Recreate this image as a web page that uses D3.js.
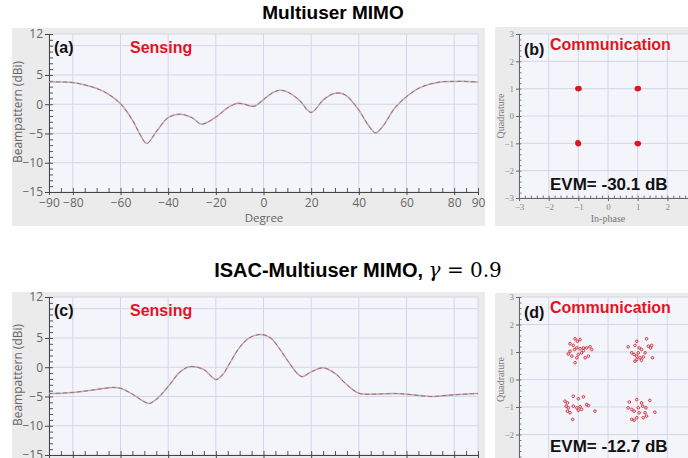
<!DOCTYPE html>
<html>
<head>
<meta charset="utf-8">
<script src="https://cdn.jsdelivr.net/npm/d3@7/dist/d3.min.js"></script>
<style>
  body { margin: 0; background: #fff; }
  svg { display: block; }
</style>
</head>
<body>
<svg id="chart" width="688" height="458"></svg>
<script>
// ---- Beampattern (dBi) versus angle, multiuser MIMO ----
const beamDegA = [-90, -85, -80, -75, -70, -65, -60, -55, -52, -49, -45, -40, -35, -30, -26, -20, -15, -11, -8, -4, 0, 4, 7, 10, 15, 20, 25, 29, 32, 35, 40, 44, 47, 50, 55, 60, 65, 70, 75, 80, 85, 90];
const beamValA = [3.85, 3.8, 3.7, 3.3, 2.7, 1.7, 0.1, -2.7, -5.0, -6.7, -4.7, -2.3, -1.7, -2.3, -3.4, -2.2, -0.6, 0.15, 0.0, -0.35, 0.8, 2.0, 2.4, 2.1, 0.7, -1.4, 0.7, 1.75, 1.9, 1.4, -1.0, -3.6, -4.9, -3.8, -0.7, 1.3, 2.7, 3.45, 3.85, 3.9, 3.9, 3.8];

// ---- Beampattern (dBi) versus angle, ISAC multiuser MIMO ----
const beamDegC = [-90, -80, -70, -63, -60, -55, -50, -48, -45, -40, -35, -31, -25, -20, -17, -14, -10, -6, -1, 3, 7, 10, 16, 20, 25, 30, 35, 40, 45, 55, 60, 70, 80, 90];
const beamValC = [-4.5, -4.3, -3.8, -3.45, -3.6, -4.6, -5.9, -6.2, -5.5, -3.3, -0.8, 0.1, -0.4, -2.1, -1.2, 0.8, 3.4, 5.0, 5.6, 5.0, 3.0, 1.2, -1.6, -0.8, -0.1, -1.05, -3.0, -4.45, -4.6, -4.5, -4.6, -5.0, -4.7, -4.5];

// ---- Axis ticks ----
const degreeTicks = [-90, -80, -60, -40, -20, 0, 20, 40, 60, 80, 90];
const degreeGrid = [-80, -60, -40, -20, 0, 20, 40, 60, 80];
const dbTicks = [12, 5, 0, -5, -10, -15];
const dbGrid = [10, 5, 0, -5, -10];
const iqTicks = [-3, -2, -1, 0, 1, 2, 3];
const iqGrid = [-2, -1, 0, 1, 2];

// ---- Received QPSK symbols, multiuser MIMO (EVM -30.1 dB) ----
const symI_B = [-1.03, -0.98, -1.0, -0.96, -1.02, -0.99, 0.97, 1.02, 1.0, 1.04, 0.99, 1.01, -1.02, -0.99, -1.01, -1.03, -0.98, -1.0, 0.97, 1.02, 1.0, 1.04, 0.98, 1.01];
const symQ_B = [1.0, 1.02, 0.98, 1.0, 1.01, 0.99, 1.0, 1.02, 0.98, 1.0, 1.01, 0.99, -0.96, -1.0, -1.03, -1.0, -1.02, -0.98, -1.01, -1.0, -1.02, -1.01, -0.99, -1.03];

// ---- Received QPSK symbols, ISAC multiuser MIMO (EVM -12.7 dB) ----
const symI_D = [
  -1.11, -1.03, -0.94, -1.28, -1.17, -1.34, -1.22, -1.11, -0.94, -0.83, -0.72, -0.61, -0.89, -1.0, -1.05, -0.77, -0.66, -1.28, -1.13, -0.83, -1.05, -0.55,
  0.68, 0.97, 1.30, 0.91, 1.05, 1.13, 0.80, 0.88, 0.97, 1.08, 1.19, 1.36, 1.47, 1.44, 0.91, 0.97, 1.13, 1.50, 1.02, 1.25,
  -1.45, -1.37, -1.17, -1.0, -0.83, -1.34, -1.28, -1.37, -1.17, -1.05, -0.94, -0.89, -0.72, -0.66, -0.44, -1.19, -1.0, -1.41,
  0.72, 0.97, 1.13, 1.41, 0.80, 0.88, 1.02, 1.17, 1.28, 0.80, 0.88, 0.97, 1.19, 1.30, 1.58, 1.05, 1.25, 0.68
];
const symQ_D = [
  1.48, 1.39, 1.45, 1.30, 1.24, 0.93, 0.85, 0.61, 1.12, 1.15, 1.15, 1.19, 0.97, 0.91, 0.79, 0.79, 0.85, 1.03, 1.09, 1.05, 1.15, 1.09,
  1.19, 1.39, 1.48, 1.24, 1.15, 1.09, 0.97, 0.91, 0.85, 0.79, 0.82, 1.21, 1.24, 1.15, 0.67, 0.73, 0.70, 0.79, 0.97, 0.97,
  -0.79, -0.85, -0.61, -0.70, -0.63, -1.03, -1.21, -1.15, -0.97, -1.03, -0.99, -1.09, -0.91, -0.95, -1.15, -1.45, -1.12, -0.97,
  -0.82, -0.73, -0.85, -0.76, -1.09, -1.15, -1.03, -0.97, -1.03, -1.45, -1.48, -1.39, -1.39, -1.33, -1.19, -1.21, -1.21, -1.03
];

const svg = d3.select("#chart");
const SANS = "'Liberation Sans', Arial, sans-serif";
const TICKFONT = "'Open Sans', 'Noto Sans', sans-serif";
const SERIF = "'Liberation Serif', serif";
const RED = "#e3141f";

// Titles
svg.append("text")
  .attr("x", 333).attr("y", 19)
  .attr("text-anchor", "middle")
  .attr("font-family", SANS).attr("font-weight", "bold").attr("font-size", 19)
  .text("Multiuser MIMO");

const t2 = svg.append("text")
  .attr("x", 358).attr("y", 277)
  .attr("text-anchor", "middle")
  .attr("font-family", SANS).attr("font-weight", "bold").attr("font-size", 20);
t2.append("tspan").text("ISAC-Multiuser MIMO, ");
t2.append("tspan").attr("font-family", "'DejaVu Serif', serif").attr("font-style", "italic").attr("font-weight", "normal").text("γ");
t2.append("tspan").attr("font-family", "'DejaVu Serif', serif").attr("font-weight", "normal").text(" = 0.9");

function beamPanel(cfg) {
  const g = svg.append("g");
  g.append("rect").attr("x", 12).attr("y", cfg.boxTop).attr("width", 473).attr("height", cfg.boxH).attr("fill", "#ebebeb");

  const x = d3.scaleLinear().domain([-90, 90]).range([49, 478]);
  const y = d3.scaleLinear().domain([-15, 12]).range([cfg.bottom, cfg.top]);

  g.append("rect").attr("x", x(-90)).attr("y", y(12)).attr("width", x(90) - x(-90)).attr("height", y(-15) - y(12))
    .attr("fill", "#f4f5fb").attr("stroke", "#d3d6ea");

  g.selectAll(".vg").data(degreeGrid).join("line")
    .attr("x1", d => x(d)).attr("x2", d => x(d)).attr("y1", y(12)).attr("y2", y(-15))
    .attr("stroke", "#d3d6ea").attr("stroke-width", 1);
  g.selectAll(".hg").data(dbGrid).join("line")
    .attr("x1", x(-90)).attr("x2", x(90)).attr("y1", d => y(d)).attr("y2", d => y(d))
    .attr("stroke", "#d3d6ea").attr("stroke-width", 1);

  // minor ticks (inward)
  g.append("g").attr("transform", `translate(0,${y(-15)})`)
    .call(d3.axisBottom(x).tickValues(d3.range(-90, 91, 5)).tickSize(-4).tickFormat(""))
    .call(a => a.select(".domain").remove())
    .call(a => a.selectAll("line").attr("stroke", "#555"));
  g.append("g").attr("transform", `translate(${x(-90)},0)`)
    .call(d3.axisLeft(y).tickValues(d3.range(-15, 13, 1)).tickSize(-4).tickFormat(""))
    .call(a => a.select(".domain").remove())
    .call(a => a.selectAll("line").attr("stroke", "#555"));

  // major axes
  const xa = g.append("g").attr("transform", `translate(0,${y(-15)})`)
    .call(d3.axisBottom(x).tickValues(degreeTicks).tickSize(3).tickPadding(3)
      .tickFormat(cfg.showX ? d3.format("d") : ""));
  const ya = g.append("g").attr("transform", `translate(${x(-90)},0)`)
    .call(d3.axisLeft(y).tickValues(dbTicks).tickSize(4).tickPadding(2).tickFormat(d3.format("d")));
  [xa, ya].forEach(a => {
    a.select(".domain").attr("stroke", "#444");
    a.selectAll("line").attr("stroke", "#444");
    a.selectAll("text").attr("font-family", TICKFONT).attr("font-size", 12).attr("fill", "#666");
  });

  if (cfg.showX) {
    g.append("text").attr("x", 264).attr("y", cfg.bottom + 30)
      .attr("text-anchor", "middle").attr("font-family", TICKFONT).attr("font-size", 11.5).attr("fill", "#666")
      .text("Degree");
  }
  g.append("text")
    .attr("transform", `translate(22,${(cfg.top + cfg.bottom) / 2 - 1}) rotate(-90)`)
    .attr("text-anchor", "middle").attr("font-family", TICKFONT).attr("font-size", 12).attr("fill", "#666")
    .text("Beampattern (dBi)");

  const pts = cfg.deg.map((d, i) => [d, cfg.val[i]]);
  const line = d3.line().x(d => x(d[0])).y(d => y(d[1])).curve(d3.curveCatmullRom.alpha(0.5));
  g.append("path").attr("d", line(pts)).attr("fill", "none").attr("stroke", "#b8adb2").attr("stroke-width", 1.5);
  g.append("path").attr("d", line(pts)).attr("fill", "none").attr("stroke", "#b85a66").attr("stroke-width", 0.9)
    .attr("stroke-dasharray", "4,3");

  g.append("text").attr("x", 54).attr("y", cfg.top + 19)
    .attr("font-family", SANS).attr("font-weight", "bold").attr("font-size", 16).attr("fill", "#111")
    .text(cfg.tag);
  g.append("text").attr("x", 130).attr("y", cfg.top + 19)
    .attr("font-family", SANS).attr("font-weight", "bold").attr("font-size", 16).attr("fill", RED)
    .text("Sensing");
}

function constPanel(cfg) {
  const g = svg.append("g");
  g.append("rect").attr("x", 495).attr("y", cfg.boxTop).attr("width", 200).attr("height", cfg.boxH).attr("fill", "#ebebeb");

  const x = d3.scaleLinear().domain([-3, 3]).range([519, 697]);
  const y = d3.scaleLinear().domain([-3, 3]).range([cfg.bottom, cfg.top]);

  g.append("rect").attr("x", x(-3)).attr("y", y(3)).attr("width", x(3) - x(-3)).attr("height", y(-3) - y(3))
    .attr("fill", "#f4f5fb").attr("stroke", "#d3d6ea");
  g.selectAll(".vg").data(iqGrid).join("line")
    .attr("x1", d => x(d)).attr("x2", d => x(d)).attr("y1", y(3)).attr("y2", y(-3))
    .attr("stroke", "#d3d6ea");
  g.selectAll(".hg").data(iqGrid).join("line")
    .attr("x1", x(-3)).attr("x2", x(3)).attr("y1", d => y(d)).attr("y2", d => y(d))
    .attr("stroke", "#d3d6ea");

  g.append("g").attr("transform", `translate(0,${y(-3)})`)
    .call(d3.axisBottom(x).tickValues(d3.range(-3, 3.01, 0.2)).tickSize(-2.5).tickFormat(""))
    .call(a => a.select(".domain").remove())
    .call(a => a.selectAll("line").attr("stroke", "#777"));
  g.append("g").attr("transform", `translate(${x(-3)},0)`)
    .call(d3.axisLeft(y).tickValues(d3.range(-3, 3.01, 0.2)).tickSize(-2.5).tickFormat(""))
    .call(a => a.select(".domain").remove())
    .call(a => a.selectAll("line").attr("stroke", "#777"));

  const xa = g.append("g").attr("transform", `translate(0,${y(-3)})`)
    .call(d3.axisBottom(x).tickValues(cfg.showX ? iqTicks.slice(0, 6) : []).tickSize(3).tickPadding(3).tickFormat(d3.format("d")));
  const ya = g.append("g").attr("transform", `translate(${x(-3)},0)`)
    .call(d3.axisLeft(y).tickValues(cfg.showX ? iqTicks : iqTicks.slice(1)).tickSize(3).tickPadding(2).tickFormat(d3.format("d")));
  [xa, ya].forEach(a => {
    a.select(".domain").attr("stroke", "#666");
    a.selectAll("line").attr("stroke", "#666");
    a.selectAll("text").attr("font-family", SERIF).attr("font-size", 9).attr("fill", "#888");
  });

  if (cfg.showX) {
    g.append("text").attr("x", 608).attr("y", cfg.bottom + 24)
      .attr("text-anchor", "middle").attr("font-family", SERIF).attr("font-size", 10).attr("fill", "#777")
      .text("In-phase");
  }
  g.append("text")
    .attr("transform", `translate(504,${(cfg.top + cfg.bottom) / 2}) rotate(-90)`)
    .attr("text-anchor", "middle").attr("font-family", SERIF).attr("font-size", 10).attr("fill", "#777")
    .text("Quadrature");

  const pts = cfg.I.map((v, i) => [v, cfg.Q[i]]);
  if (cfg.tight) {
    g.selectAll(".pt").data(pts).join("circle")
      .attr("cx", d => x(d[0])).attr("cy", d => y(d[1])).attr("r", 2.4)
      .attr("fill", RED).attr("opacity", 0.85);
  } else {
    g.selectAll(".pt").data(pts).join("circle")
      .attr("cx", d => x(d[0])).attr("cy", d => y(d[1])).attr("r", 1.3)
      .attr("fill", "none").attr("stroke", "#d0202c").attr("stroke-width", 0.9);
  }

  g.append("text").attr("x", 524).attr("y", cfg.top + 21)
    .attr("font-family", SANS).attr("font-weight", "bold").attr("font-size", 16).attr("fill", "#111")
    .text(cfg.tag);
  g.append("text").attr("x", 550).attr("y", cfg.top + 16)
    .attr("font-family", SANS).attr("font-weight", "bold").attr("font-size", 16).attr("fill", RED)
    .text("Communication");
  g.append("text").attr("x", 550).attr("y", cfg.evmY)
    .attr("font-family", SANS).attr("font-weight", "bold").attr("font-size", 17).attr("fill", "#111")
    .text(cfg.evm);
}

beamPanel({ boxTop: 28, boxH: 198, top: 34, bottom: 192, deg: beamDegA, val: beamValA, tag: "(a)", showX: true });
beamPanel({ boxTop: 292, boxH: 170, top: 297, bottom: 455, deg: beamDegC, val: beamValC, tag: "(c)", showX: false });
constPanel({ boxTop: 27, boxH: 199, top: 34, bottom: 198, I: symI_B, Q: symQ_B, tight: true, tag: "(b)", evm: "EVM= -30.1 dB", evmY: 190, showX: true });
constPanel({ boxTop: 293, boxH: 170, top: 297, bottom: 462, I: symI_D, Q: symQ_D, tight: false, tag: "(d)", evm: "EVM= -12.7 dB", evmY: 452, showX: false });
</script>
</body>
</html>
